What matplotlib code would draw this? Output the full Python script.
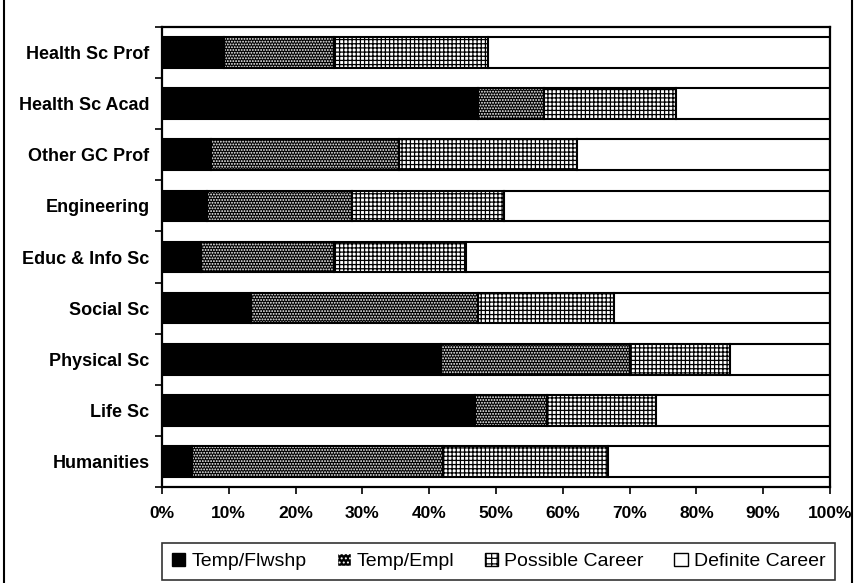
import matplotlib
matplotlib.use("Agg")
import matplotlib.pyplot as plt
import numpy as np
from matplotlib.lines import Line2D
from matplotlib.patches import Patch

plt.rcParams['font.family'] = ['Liberation Sans', 'DejaVu Sans']
plt.rcParams['hatch.linewidth'] = 0.9

categories = ["Health Sc Prof", "Health Sc Acad", "Other GC Prof", "Engineering",
              "Educ & Info Sc", "Social Sc", "Physical Sc", "Life Sc", "Humanities"]
temp_flwshp = [9.3, 47.3, 7.3, 6.7, 5.9, 13.3, 41.8, 46.9, 4.5]
temp_empl = [16.5, 9.9, 28.2, 21.7, 19.8, 34.0, 28.3, 10.7, 37.6]
possible_career = [23.0, 19.7, 26.7, 22.8, 19.8, 20.4, 14.9, 16.3, 24.6]
definite_career = [51.2, 23.1, 37.8, 48.8, 54.5, 32.3, 15.0, 26.1, 33.3]
series_names = ["Temp/Flwshp", "Temp/Empl", "Possible Career", "Definite Career"]
xtick_labels = ["0%", "10%", "20%", "30%", "40%", "50%", "60%", "70%", "80%", "90%", "100%"]

fig = plt.figure(figsize=(8.67, 5.83), dpi=100)
ax = fig.add_axes([162/867, 1-487/583, (830-162)/867, (487-27)/583])

y = np.arange(len(categories))
h = 0.6
left = np.zeros(len(categories))

series = [temp_flwshp, temp_empl, possible_career, definite_career]
# styles: (face, hatch, hatch colour)
styles = [("black", None, None), ("black", "......", "white"),
          ("white", "++++", "black"), ("white", None, None)]
for vals, (fc, hatch, hc) in zip(series, styles):
    vals = np.array(vals)
    if hatch:
        ax.barh(y, vals, left=left, height=h, color=fc, hatch=hatch,
                edgecolor=hc, linewidth=0)
    else:
        ax.barh(y, vals, left=left, height=h, color=fc, linewidth=0)
    ax.barh(y, vals, left=left, height=h, fill=False, edgecolor="black", linewidth=1.5)
    left = left + vals

ax.set_xlim(0, 100)
ax.set_ylim(len(categories) - 0.5, -0.5)
ax.set_xticks(np.arange(0, 101, 10))
ax.set_xticklabels(xtick_labels, fontsize=12.5, fontweight="bold")
ax.set_yticks(y)
ax.set_yticklabels(categories, fontsize=13, fontweight="bold")
ax.set_yticks(np.arange(-0.5, len(categories), 1), minor=True)
ax.tick_params(axis="y", which="major", length=0, pad=9)
ax.tick_params(axis="y", which="minor", length=5, width=1.2, direction="out")
ax.tick_params(axis="x", length=5, width=1.2, direction="out", pad=9)
for s in ax.spines.values():
    s.set_linewidth(1.6)

handles = [Patch(facecolor="black", edgecolor="black"),
           Patch(facecolor="black", edgecolor="white", hatch="...."),
           Patch(facecolor="white", edgecolor="black", hatch="+++"),
           Patch(facecolor="white", edgecolor="black")]
leg = fig.legend(handles, series_names, loc="lower left",
                 bbox_to_anchor=(162/867, 3/583, (835-162)/867, 42/583),
                 mode="expand", ncol=4, fontsize=14, frameon=True, fancybox=False,
                 handlelength=0.7, handleheight=0.7, handletextpad=0.3,
                 borderaxespad=0, columnspacing=0.8, borderpad=0.5)
leg.get_frame().set_edgecolor("black")
leg.get_frame().set_linewidth(1.2)

fig.add_artist(Line2D([4/867, 4/867], [0, 1], color="black", lw=1.5, transform=fig.transFigure))
fig.add_artist(Line2D([852/867, 852/867], [0, 1], color="black", lw=1.5, transform=fig.transFigure))

fig.savefig("out.png", dpi=100)
